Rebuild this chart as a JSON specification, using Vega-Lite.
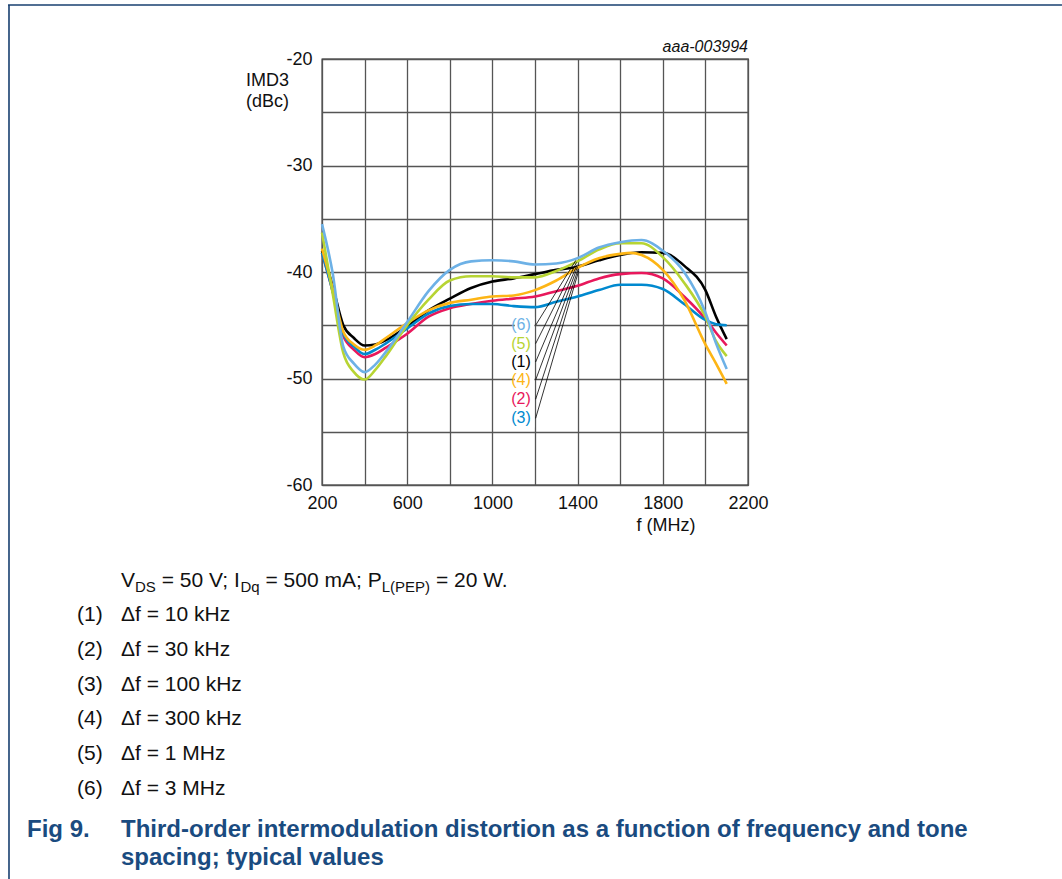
{
  "$schema": "https://vega.github.io/schema/vega-lite/v6.json",
  "width": 426,
  "height": 426,
  "autosize": {"type": "none"},
  "padding": {"left": 322, "top": 59, "right": 314, "bottom": 394},
  "background": "white",
  "config": {
    "font": "Liberation Sans",
    "view": {"stroke": "#1a1a1a", "strokeWidth": 1.3},
    "text": {"font": "Liberation Sans"}
  },
  "datasets": {
    "curves": [
      {"s": "(1)", "f": 200, "imd": -38.0}, {"s": "(1)", "f": 250, "imd": -41.3}, {"s": "(1)", "f": 300, "imd": -45.0}, {"s": "(1)", "f": 350, "imd": -46.2}, {"s": "(1)", "f": 400, "imd": -46.9}, {"s": "(1)", "f": 450, "imd": -46.8}, {"s": "(1)", "f": 500, "imd": -46.4}, {"s": "(1)", "f": 600, "imd": -45.1}, {"s": "(1)", "f": 700, "imd": -43.6}, {"s": "(1)", "f": 800, "imd": -42.5}, {"s": "(1)", "f": 900, "imd": -41.5}, {"s": "(1)", "f": 1000, "imd": -40.9}, {"s": "(1)", "f": 1100, "imd": -40.6}, {"s": "(1)", "f": 1200, "imd": -40.2}, {"s": "(1)", "f": 1300, "imd": -39.8}, {"s": "(1)", "f": 1400, "imd": -39.5}, {"s": "(1)", "f": 1500, "imd": -38.9}, {"s": "(1)", "f": 1600, "imd": -38.4}, {"s": "(1)", "f": 1700, "imd": -38.15}, {"s": "(1)", "f": 1800, "imd": -38.2}, {"s": "(1)", "f": 1900, "imd": -39.4}, {"s": "(1)", "f": 2000, "imd": -41.7}, {"s": "(1)", "f": 2050, "imd": -44.2}, {"s": "(1)", "f": 2100, "imd": -46.3},
      {"s": "(2)", "f": 200, "imd": -38.2}, {"s": "(2)", "f": 250, "imd": -41.8}, {"s": "(2)", "f": 300, "imd": -46.0}, {"s": "(2)", "f": 350, "imd": -47.3}, {"s": "(2)", "f": 400, "imd": -48.0}, {"s": "(2)", "f": 450, "imd": -47.7}, {"s": "(2)", "f": 500, "imd": -47.1}, {"s": "(2)", "f": 600, "imd": -45.8}, {"s": "(2)", "f": 700, "imd": -44.2}, {"s": "(2)", "f": 800, "imd": -43.4}, {"s": "(2)", "f": 900, "imd": -43.0}, {"s": "(2)", "f": 1000, "imd": -42.7}, {"s": "(2)", "f": 1100, "imd": -42.5}, {"s": "(2)", "f": 1200, "imd": -42.3}, {"s": "(2)", "f": 1300, "imd": -41.8}, {"s": "(2)", "f": 1400, "imd": -41.3}, {"s": "(2)", "f": 1500, "imd": -40.6}, {"s": "(2)", "f": 1600, "imd": -40.2}, {"s": "(2)", "f": 1700, "imd": -40.1}, {"s": "(2)", "f": 1800, "imd": -40.6}, {"s": "(2)", "f": 1900, "imd": -42.3}, {"s": "(2)", "f": 2000, "imd": -44.4}, {"s": "(2)", "f": 2050, "imd": -45.7}, {"s": "(2)", "f": 2100, "imd": -46.9},
      {"s": "(3)", "f": 200, "imd": -38.2}, {"s": "(3)", "f": 250, "imd": -41.8}, {"s": "(3)", "f": 300, "imd": -45.8}, {"s": "(3)", "f": 350, "imd": -47.0}, {"s": "(3)", "f": 400, "imd": -47.7}, {"s": "(3)", "f": 450, "imd": -47.3}, {"s": "(3)", "f": 500, "imd": -46.7}, {"s": "(3)", "f": 600, "imd": -45.3}, {"s": "(3)", "f": 700, "imd": -43.9}, {"s": "(3)", "f": 800, "imd": -43.2}, {"s": "(3)", "f": 900, "imd": -43.0}, {"s": "(3)", "f": 1000, "imd": -43.0}, {"s": "(3)", "f": 1100, "imd": -43.2}, {"s": "(3)", "f": 1200, "imd": -43.3}, {"s": "(3)", "f": 1300, "imd": -42.8}, {"s": "(3)", "f": 1400, "imd": -42.3}, {"s": "(3)", "f": 1500, "imd": -41.7}, {"s": "(3)", "f": 1600, "imd": -41.2}, {"s": "(3)", "f": 1700, "imd": -41.2}, {"s": "(3)", "f": 1800, "imd": -41.6}, {"s": "(3)", "f": 1900, "imd": -43.0}, {"s": "(3)", "f": 2000, "imd": -44.5}, {"s": "(3)", "f": 2050, "imd": -44.9}, {"s": "(3)", "f": 2100, "imd": -45.0},
      {"s": "(4)", "f": 200, "imd": -37.8}, {"s": "(4)", "f": 250, "imd": -41.5}, {"s": "(4)", "f": 300, "imd": -45.6}, {"s": "(4)", "f": 350, "imd": -46.8}, {"s": "(4)", "f": 400, "imd": -47.3}, {"s": "(4)", "f": 450, "imd": -46.9}, {"s": "(4)", "f": 500, "imd": -46.2}, {"s": "(4)", "f": 600, "imd": -44.8}, {"s": "(4)", "f": 700, "imd": -43.6}, {"s": "(4)", "f": 800, "imd": -42.9}, {"s": "(4)", "f": 900, "imd": -42.6}, {"s": "(4)", "f": 1000, "imd": -42.3}, {"s": "(4)", "f": 1100, "imd": -42.2}, {"s": "(4)", "f": 1200, "imd": -41.7}, {"s": "(4)", "f": 1300, "imd": -40.8}, {"s": "(4)", "f": 1400, "imd": -39.6}, {"s": "(4)", "f": 1500, "imd": -38.7}, {"s": "(4)", "f": 1600, "imd": -38.3}, {"s": "(4)", "f": 1650, "imd": -38.2}, {"s": "(4)", "f": 1700, "imd": -38.4}, {"s": "(4)", "f": 1800, "imd": -39.8}, {"s": "(4)", "f": 1900, "imd": -42.6}, {"s": "(4)", "f": 2000, "imd": -46.8}, {"s": "(4)", "f": 2050, "imd": -48.6}, {"s": "(4)", "f": 2100, "imd": -50.5},
      {"s": "(5)", "f": 200, "imd": -36.3}, {"s": "(5)", "f": 250, "imd": -42.0}, {"s": "(5)", "f": 300, "imd": -47.6}, {"s": "(5)", "f": 350, "imd": -49.4}, {"s": "(5)", "f": 400, "imd": -50.1}, {"s": "(5)", "f": 450, "imd": -49.2}, {"s": "(5)", "f": 500, "imd": -47.9}, {"s": "(5)", "f": 600, "imd": -45.0}, {"s": "(5)", "f": 700, "imd": -42.6}, {"s": "(5)", "f": 800, "imd": -40.8}, {"s": "(5)", "f": 900, "imd": -40.4}, {"s": "(5)", "f": 1000, "imd": -40.4}, {"s": "(5)", "f": 1100, "imd": -40.5}, {"s": "(5)", "f": 1200, "imd": -40.5}, {"s": "(5)", "f": 1300, "imd": -39.9}, {"s": "(5)", "f": 1400, "imd": -39.0}, {"s": "(5)", "f": 1500, "imd": -37.9}, {"s": "(5)", "f": 1600, "imd": -37.3}, {"s": "(5)", "f": 1700, "imd": -37.3}, {"s": "(5)", "f": 1800, "imd": -38.6}, {"s": "(5)", "f": 1900, "imd": -41.0}, {"s": "(5)", "f": 2000, "imd": -44.2}, {"s": "(5)", "f": 2050, "imd": -46.5}, {"s": "(5)", "f": 2100, "imd": -47.9},
      {"s": "(6)", "f": 200, "imd": -35.5}, {"s": "(6)", "f": 250, "imd": -40.1}, {"s": "(6)", "f": 300, "imd": -47.0}, {"s": "(6)", "f": 350, "imd": -48.6}, {"s": "(6)", "f": 400, "imd": -49.4}, {"s": "(6)", "f": 450, "imd": -48.7}, {"s": "(6)", "f": 500, "imd": -47.5}, {"s": "(6)", "f": 600, "imd": -44.7}, {"s": "(6)", "f": 700, "imd": -41.8}, {"s": "(6)", "f": 800, "imd": -39.8}, {"s": "(6)", "f": 900, "imd": -39.0}, {"s": "(6)", "f": 1000, "imd": -38.9}, {"s": "(6)", "f": 1100, "imd": -39.0}, {"s": "(6)", "f": 1200, "imd": -39.3}, {"s": "(6)", "f": 1300, "imd": -39.2}, {"s": "(6)", "f": 1400, "imd": -38.7}, {"s": "(6)", "f": 1500, "imd": -37.7}, {"s": "(6)", "f": 1600, "imd": -37.2}, {"s": "(6)", "f": 1700, "imd": -37.0}, {"s": "(6)", "f": 1800, "imd": -38.0}, {"s": "(6)", "f": 1900, "imd": -40.0}, {"s": "(6)", "f": 2000, "imd": -43.8}, {"s": "(6)", "f": 2050, "imd": -46.7}, {"s": "(6)", "f": 2100, "imd": -49.1}
    ],
    "labels": [
      {"s": "(6)", "f": 1180, "imd": -45.0},
      {"s": "(5)", "f": 1180, "imd": -46.73},
      {"s": "(1)", "f": 1180, "imd": -48.45},
      {"s": "(4)", "f": 1180, "imd": -50.14},
      {"s": "(2)", "f": 1180, "imd": -51.95},
      {"s": "(3)", "f": 1180, "imd": -53.74}
    ],
    "leaders": [
      {"s": "(6)", "f": 1203, "imd": -45.0, "f2": 1392, "imd2": -38.9},
      {"s": "(5)", "f": 1203, "imd": -46.73, "f2": 1395, "imd2": -39.1},
      {"s": "(1)", "f": 1203, "imd": -48.45, "f2": 1398, "imd2": -39.3},
      {"s": "(4)", "f": 1203, "imd": -50.14, "f2": 1400, "imd2": -39.5},
      {"s": "(2)", "f": 1203, "imd": -51.95, "f2": 1403, "imd2": -39.7},
      {"s": "(3)", "f": 1203, "imd": -53.74, "f2": 1405, "imd2": -39.9}
    ],
    "items": [
      {"n": "(1)", "d": "Δf = 10 kHz", "imd": -72.21},
      {"n": "(2)", "d": "Δf = 30 kHz", "imd": -75.49},
      {"n": "(3)", "d": "Δf = 100 kHz", "imd": -78.78},
      {"n": "(4)", "d": "Δf = 300 kHz", "imd": -81.97},
      {"n": "(5)", "d": "Δf = 1 MHz", "imd": -85.26},
      {"n": "(6)", "d": "Δf = 3 MHz", "imd": -88.54}
    ],
    "cond": [
      {"t": "V", "f": -743.7, "imd": -68.99},
      {"t": "= 50 V; I", "f": -552.6, "imd": -68.99},
      {"t": "= 500 mA; P", "f": -65.3, "imd": -68.99},
      {"t": "= 20 W.", "f": 734.7, "imd": -68.99}
    ],
    "condsub": [
      {"t": "DS", "f": -677.9, "imd": -69.56},
      {"t": "Dq", "f": -182.6, "imd": -69.56},
      {"t": "L(PEP)", "f": 480.3, "imd": -69.56}
    ]
  },
  "layer": [
    {
      "data": {"name": "curves"},
      "mark": {"type": "line", "interpolate": "monotone", "strokeWidth": 2.6},
      "encoding": {
        "x": {
          "field": "f", "type": "quantitative", "title": null,
          "scale": {"domain": [200, 2200], "nice": false, "zero": false},
          "axis": {
            "values": [200, 400, 600, 800, 1000, 1200, 1400, 1600, 1800, 2000, 2200],
            "labelExpr": "(datum.value - 200) % 400 == 0 ? toString(datum.value) : ''",
            "grid": true, "gridColor": "#555555", "gridWidth": 1.3,
            "ticks": false, "domain": false, "labelFontSize": 18, "labelColor": "#111111",
            "labelPadding": 9, "labelFlush": false, "labelOverlap": false, "title": null
          }
        },
        "y": {
          "field": "imd", "type": "quantitative", "title": null,
          "scale": {"domain": [-60, -20], "nice": false, "zero": false},
          "axis": {
            "values": [-60, -55, -50, -45, -40, -35, -30, -25, -20],
            "labelExpr": "datum.value % 10 == 0 ? toString(datum.value) : ''",
            "grid": true, "gridColor": "#555555", "gridWidth": 1.3,
            "ticks": false, "domain": false, "labelFontSize": 18, "labelColor": "#111111",
            "labelPadding": 10, "labelOverlap": false, "title": null
          }
        },
        "color": {
          "field": "s", "type": "nominal", "legend": null,
          "scale": {
            "domain": ["(1)", "(2)", "(3)", "(4)", "(5)", "(6)"],
            "range": ["#000000", "#e8185c", "#0089cf", "#fdb515", "#b7d433", "#6db1e6"]
          }
        }
      }
    },
    {
      "data": {"values": [{}]},
      "mark": {"type": "rect", "color": "white"},
      "encoding": {
        "x": {"datum": 1105, "type": "quantitative", "title": null},
        "x2": {"datum": 1197},
        "y": {"datum": -44.2, "type": "quantitative", "title": null},
        "y2": {"datum": -54.6}
      }
    },
    {
      "data": {"name": "leaders"},
      "mark": {"type": "rule", "color": "#000000", "strokeWidth": 0.8},
      "encoding": {
        "x": {"field": "f", "type": "quantitative", "title": null},
        "y": {"field": "imd", "type": "quantitative", "title": null},
        "x2": {"field": "f2"},
        "y2": {"field": "imd2"}
      }
    },
    {
      "data": {"name": "labels"},
      "mark": {"type": "text", "align": "right", "baseline": "middle", "fontSize": 16},
      "encoding": {
        "x": {"field": "f", "type": "quantitative", "title": null},
        "y": {"field": "imd", "type": "quantitative", "title": null},
        "text": {"field": "s"},
        "color": {"field": "s", "type": "nominal", "legend": null}
      }
    },
    {
      "data": {"values": [{}]},
      "mark": {"type": "text", "align": "left", "baseline": "middle", "fontSize": 18, "color": "#111111", "text": "IMD3"},
      "encoding": {
        "x": {"datum": -156.8, "type": "quantitative", "title": null},
        "y": {"datum": -22.06, "type": "quantitative", "title": null}
      }
    },
    {
      "data": {"values": [{}]},
      "mark": {"type": "text", "align": "left", "baseline": "middle", "fontSize": 18, "color": "#111111", "text": "(dBc)"},
      "encoding": {
        "x": {"datum": -156.8, "type": "quantitative", "title": null},
        "y": {"datum": -24.04, "type": "quantitative", "title": null}
      }
    },
    {
      "data": {"values": [{}]},
      "mark": {"type": "text", "align": "center", "baseline": "middle", "fontSize": 18, "color": "#111111", "text": "f (MHz)"},
      "encoding": {
        "x": {"datum": 1815, "type": "quantitative", "title": null},
        "y": {"datum": -63.85, "type": "quantitative", "title": null}
      }
    },
    {
      "data": {"values": [{}]},
      "mark": {"type": "text", "align": "right", "baseline": "middle", "fontSize": 16, "fontStyle": "italic", "color": "#111111", "text": "aaa-003994"},
      "encoding": {
        "x": {"datum": 2200, "type": "quantitative", "title": null},
        "y": {"datum": -18.87, "type": "quantitative", "title": null}
      }
    },
    {
      "data": {"name": "cond"},
      "mark": {"type": "text", "align": "left", "baseline": "middle", "fontSize": 21, "color": "#111111"},
      "encoding": {
        "x": {"field": "f", "type": "quantitative", "title": null},
        "y": {"field": "imd", "type": "quantitative", "title": null},
        "text": {"field": "t"}
      }
    },
    {
      "data": {"name": "condsub"},
      "mark": {"type": "text", "align": "left", "baseline": "middle", "fontSize": 15, "color": "#111111"},
      "encoding": {
        "x": {"field": "f", "type": "quantitative", "title": null},
        "y": {"field": "imd", "type": "quantitative", "title": null},
        "text": {"field": "t"}
      }
    },
    {
      "data": {"name": "items"},
      "mark": {"type": "text", "align": "left", "baseline": "middle", "fontSize": 21, "color": "#111111"},
      "encoding": {
        "x": {"datum": -950.2, "type": "quantitative", "title": null},
        "y": {"field": "imd", "type": "quantitative", "title": null},
        "text": {"field": "n"}
      }
    },
    {
      "data": {"name": "items"},
      "mark": {"type": "text", "align": "left", "baseline": "middle", "fontSize": 21, "color": "#111111"},
      "encoding": {
        "x": {"datum": -743.7, "type": "quantitative", "title": null},
        "y": {"field": "imd", "type": "quantitative", "title": null},
        "text": {"field": "d"}
      }
    },
    {
      "data": {"values": [{}]},
      "mark": {"type": "text", "align": "left", "baseline": "middle", "fontSize": 24, "fontWeight": "bold", "color": "#1a4b80", "text": "Fig 9."},
      "encoding": {
        "x": {"datum": -1185, "type": "quantitative", "title": null},
        "y": {"datum": -92.39, "type": "quantitative", "title": null}
      }
    },
    {
      "data": {"values": [{}]},
      "mark": {"type": "text", "align": "left", "baseline": "middle", "fontSize": 24, "fontWeight": "bold", "color": "#1a4b80", "text": "Third-order intermodulation distortion as a function of frequency and tone"},
      "encoding": {
        "x": {"datum": -743.7, "type": "quantitative", "title": null},
        "y": {"datum": -92.39, "type": "quantitative", "title": null}
      }
    },
    {
      "data": {"values": [{}]},
      "mark": {"type": "text", "align": "left", "baseline": "middle", "fontSize": 24, "fontWeight": "bold", "color": "#1a4b80", "text": "spacing; typical values"},
      "encoding": {
        "x": {"datum": -743.7, "type": "quantitative", "title": null},
        "y": {"datum": -95.02, "type": "quantitative", "title": null}
      }
    },
    {
      "data": {"values": [{}]},
      "mark": {"type": "rule", "color": "#173f6f", "strokeWidth": 1.6},
      "encoding": {
        "x": {"datum": -1274, "type": "quantitative", "title": null},
        "x2": {"datum": 3674},
        "y": {"datum": -14.93, "type": "quantitative", "title": null}
      }
    },
    {
      "data": {"values": [{}]},
      "mark": {"type": "rule", "color": "#173f6f", "strokeWidth": 1.6},
      "encoding": {
        "x": {"datum": -1269.5, "type": "quantitative", "title": null},
        "y": {"datum": -14.93, "type": "quantitative", "title": null},
        "y2": {"datum": -97.5}
      }
    }
  ]
}
